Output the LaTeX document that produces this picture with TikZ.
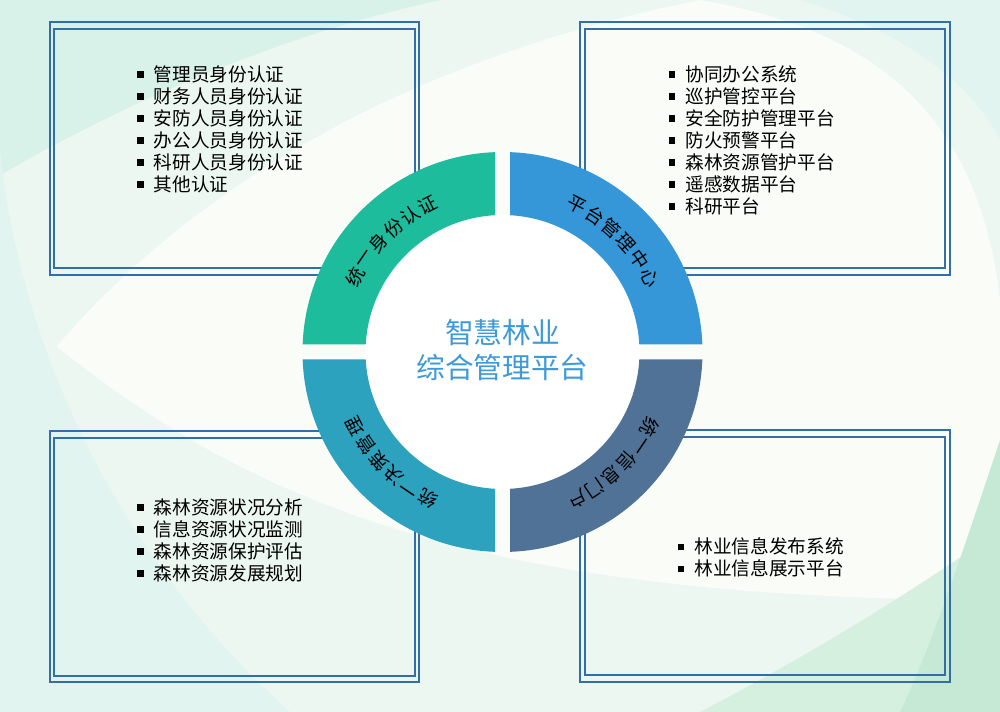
\documentclass[tikz,border=0pt]{standalone}
\usepackage{fontspec}
\setmainfont{Noto Sans CJK SC}

\definecolor{bgpaper}{RGB}{250,252,247}
\definecolor{mintpale}{RGB}{236,247,241}
\definecolor{mintdeep}{RGB}{216,241,233}
\definecolor{mintside}{RGB}{226,244,240}
\definecolor{greenpale}{RGB}{214,240,224}
\definecolor{greendeep}{RGB}{198,233,213}
\definecolor{framecol}{RGB}{50,110,168}
\definecolor{segteal}{RGB}{29,188,156}
\definecolor{segblue}{RGB}{53,151,216}
\definecolor{segslate}{RGB}{80,114,150}
\definecolor{segcyan}{RGB}{45,162,191}
\definecolor{hubblue}{RGB}{60,154,218}

\newcommand{\itm}{\rule[2.8pt]{5pt}{5pt}\hspace{7.4pt}}

\tikzset{every picture/.style={line width=0.75pt}}
\tikzset{
  frame/.style={draw=framecol, line width=1.5pt},
  listtext/.style={anchor=north west, align=left, inner sep=0pt, font=\fontsize{14}{16.5}\selectfont},
  ringchar/.style={inner sep=0pt, font=\fontsize{14}{16}\selectfont}
}

\begin{document}
\begin{tikzpicture}[x=0.75pt,y=0.75pt,yscale=-1,xscale=1]
\useasboundingbox (0,0) rectangle (1000,712);

%Shape: Background
\fill[bgpaper] (0,0) rectangle (1000,712);
\fill[mintpale] (0,0) -- (700,0) .. controls (400,60) and (150,200) .. (0,420) -- cycle;
\fill[mintdeep] (0,0) -- (440,0) .. controls (280,35) and (130,100) .. (0,175) -- cycle;
\fill[mintpale] (0,300) .. controls (200,470) and (400,600) .. (1000,600) -- (1000,712) -- (0,712) -- cycle;
\fill[mintside] (0,150) .. controls (20,350) and (120,560) .. (290,712) -- (0,712) -- cycle;
\fill[mintpale] (700,0) .. controls (880,30) and (980,120) .. (1000,300) -- (1000,0) -- cycle;
\fill[mintside] (800,0) .. controls (900,30) and (970,80) .. (1000,140) -- (1000,0) -- cycle;
\fill[greenpale] (1000,530) .. controls (900,600) and (800,660) .. (700,712) -- (1000,712) -- cycle;
\fill[greendeep] (1000,440) .. controls (960,560) and (930,650) .. (900,712) -- (1000,712) -- cycle;

%Shape: Rectangle (identity)
\draw[frame] (50,22) rectangle (419,275);
\draw[frame] (54,29) rectangle (415,268);
%Shape: Rectangle (platform)
\draw[frame] (580,22) rectangle (950,275);
\draw[frame] (585,29) rectangle (945,268);
%Shape: Rectangle (decision)
\draw[frame] (50,431) rectangle (419,682);
\draw[frame] (54,438) rectangle (415,676);
%Shape: Rectangle (portal)
\draw[frame] (580,430) rectangle (950,682);
\draw[frame] (585,437) rectangle (945,675);

% Text Node
\node (idlist) [listtext] at (136.7,65) {\itm 管理员身份认证\\\itm 财务人员身份认证\\\itm 安防人员身份认证\\\itm 办公人员身份认证\\\itm 科研人员身份认证\\\itm 其他认证};
% Text Node
\node (pflist) [listtext] at (668.3,65) {\itm 协同办公系统\\\itm 巡护管控平台\\\itm 安全防护管理平台\\\itm 防火预警平台\\\itm 森林资源管护平台\\\itm 遥感数据平台\\\itm 科研平台};
% Text Node
\node (dclist) [listtext] at (136.7,498.3) {\itm 森林资源状况分析\\\itm 信息资源状况监测\\\itm 森林资源保护评估\\\itm 森林资源发展规划};
% Text Node
\node (ptlist) [listtext] at (677.3,537.6) {\itm 林业信息发布系统\\\itm 林业信息展示平台};

\begin{scope}[shift={(502.5,352)},yscale=-1]
%Shape: Ring segments
\fill[white] (0,0) circle (137.5);
\fill[segteal] (92.15:200) arc[start angle=92.15,end angle=177.85,radius=200] -- (176.86:137) arc[start angle=176.86,end angle=93.14,radius=137] -- cycle;
\fill[segblue] (2.15:200) arc[start angle=2.15,end angle=87.85,radius=200] -- (86.86:137) arc[start angle=86.86,end angle=3.14,radius=137] -- cycle;
\fill[segslate] (-87.85:200) arc[start angle=-87.85,end angle=-2.15,radius=200] -- (-3.14:137) arc[start angle=-3.14,end angle=-86.86,radius=137] -- cycle;
\fill[segcyan] (182.15:200) arc[start angle=182.15,end angle=267.85,radius=200] -- (266.86:137) arc[start angle=266.86,end angle=183.14,radius=137] -- cycle;

% Text Node
\node (ida) [ringchar,rotate=63.1] at (153.1:165) {统};
\node (idb) [ringchar,rotate=55.9] at (145.9:165) {一};
\node (idc) [ringchar,rotate=48.6] at (138.6:165) {身};
\node (idd) [ringchar,rotate=41.4] at (131.4:165) {份};
\node (ide) [ringchar,rotate=34.1] at (124.1:165) {认};
\node (idf) [ringchar,rotate=26.9] at (116.9:165) {证};
% Text Node
\node (pfa) [ringchar,rotate=-26.9] at (63.1:165) {平};
\node (pfb) [ringchar,rotate=-34.1] at (55.9:165) {台};
\node (pfc) [ringchar,rotate=-41.4] at (48.6:165) {管};
\node (pfd) [ringchar,rotate=-48.6] at (41.4:165) {理};
\node (pfe) [ringchar,rotate=-55.9] at (34.1:165) {中};
\node (pff) [ringchar,rotate=-63.1] at (26.9:165) {心};
% Text Node
\node (pta) [ringchar,rotate=-116.9] at (-26.9:165) {统};
\node (ptb) [ringchar,rotate=-124.1] at (-34.1:165) {一};
\node (ptc) [ringchar,rotate=-131.4] at (-41.4:165) {信};
\node (ptd) [ringchar,rotate=-138.6] at (-48.6:165) {息};
\node (pte) [ringchar,rotate=-145.9] at (-55.9:165) {门};
\node (ptf) [ringchar,rotate=-153.1] at (-63.1:165) {户};
% Text Node
\node (dca) [ringchar,rotate=153.1] at (243.1:165) {统};
\node (dcb) [ringchar,rotate=145.9] at (235.9:165) {一};
\node (dcc) [ringchar,rotate=138.6] at (228.6:165) {决};
\node (dcd) [ringchar,rotate=131.4] at (221.4:165) {策};
\node (dce) [ringchar,rotate=124.1] at (214.1:165) {管};
\node (dcf) [ringchar,rotate=116.9] at (206.9:165) {理};
\end{scope}

% Text Node
\node (hub) [align=center, text=hubblue, inner sep=0pt, font=\fontsize{21.5}{26.25}\selectfont] at (502.5,350.5) {智慧林业\\综合管理平台};

\end{tikzpicture}
\end{document}
